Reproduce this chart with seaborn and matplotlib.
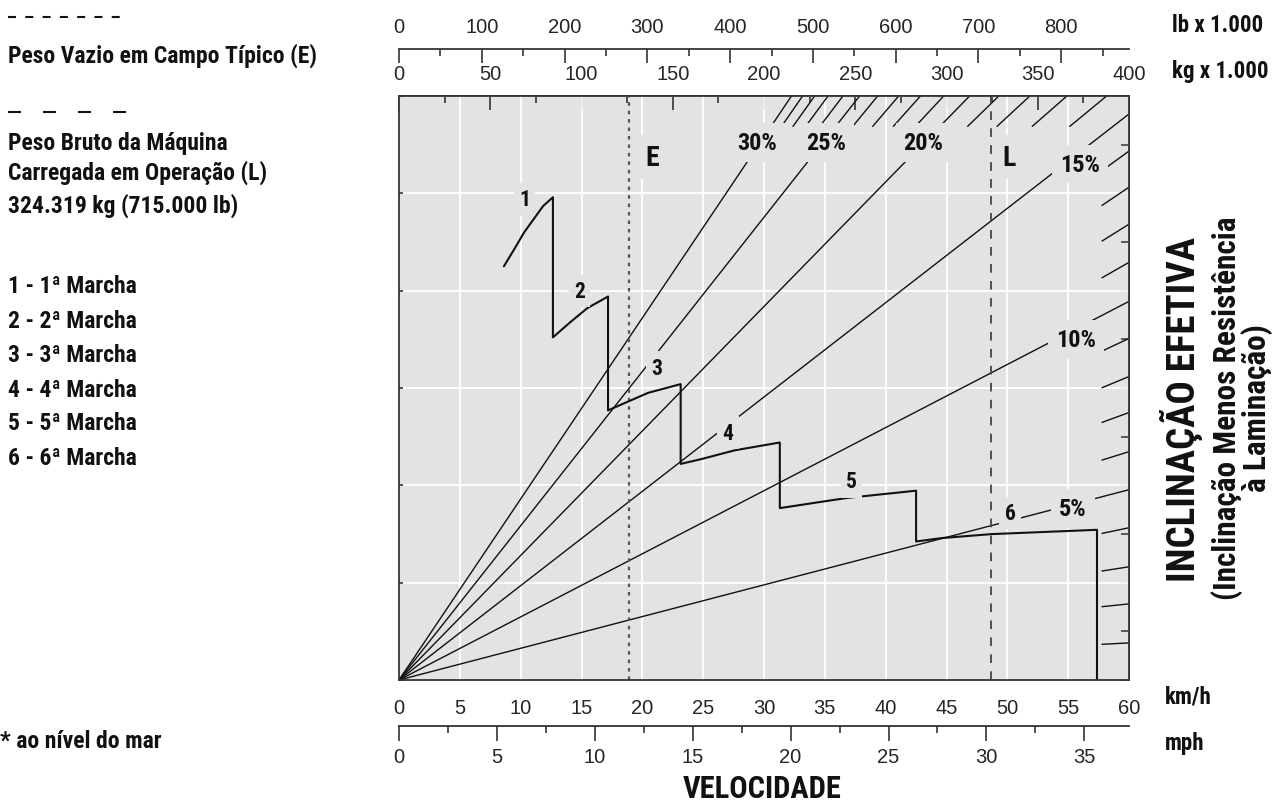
import numpy as np
import matplotlib
matplotlib.use("Agg")
import matplotlib.pyplot as plt
from matplotlib import font_manager as fm
import seaborn as sns
from matplotlib.lines import Line2D

# ---------------- data ----------------
# rimpull trace through the six gears (speed km/h, effective-grade scale units)
gear_path_kmh = [8.62, 9.49, 10.29, 11.85, 12.65, 12.65, 14.02, 15.47, 17.18, 17.18,
                 18.27, 20.47, 23.15, 23.15, 24.86, 27.6, 31.3, 31.3, 36.79, 42.5,
                 42.5, 44.6, 48.7, 57.37, 57.37]
gear_path_pull = [42.5, 44.3, 46.0, 48.7, 49.6, 35.2, 36.7, 38.2, 39.4, 27.7,
                  28.3, 29.5, 30.4, 22.2, 22.7, 23.6, 24.4, 17.66, 18.7, 19.45,
                  14.23, 14.58, 14.99, 15.43, 0.0]
gear_labels = ["1", "2", "3", "4", "5", "6"]
gear_label_kmh = [10.31, 14.84, 21.15, 27.05, 37.2, 50.23]
gear_label_pull = [49.4, 39.96, 32.08, 25.39, 20.41, 17.15]

# labelled effective-grade lines: end point where they leave the chart
grade_labels = ["30%", "25%", "20%", "15%", "10%", "5%"]
grade_end_kmh = [32.26, 37.86, 46.9, 60.0, 60.0, 60.0]
grade_end_pull = [60.0, 60.0, 60.0, 58.15, 38.9, 19.55]
grade_label_kmh = [29.47, 35.14, 43.1, 55.97, 55.64, 55.4]
grade_label_pull = [55.2, 55.2, 55.2, 53.0, 35.0, 17.6]

# unlabelled 1 % steps: exits on the top edge (16..29 %) and on the right edge (1..14 %)
top_step_kmh = [58.16, 54.9, 51.85, 49.3, 44.77, 42.86, 41.07, 39.34, 36.49, 35.26, 34.16, 33.17]
right_step_pull = [54.34, 50.63, 46.83, 42.91, 35.09, 31.18, 27.48, 23.46, 15.64, 11.63, 7.82, 3.81]

# weight lines (kg x 1000)
weight_E_t = 126.0
weight_L_t = 324.319

kmh_ticks = list(range(0, 61, 5))
mph_ticks = list(range(0, 36, 5))
kg_ticks = list(range(0, 401, 50))
lb_ticks = list(range(0, 801, 100))

legend_lines = ["Peso Vazio em Campo Típico (E)", "Peso Bruto da Máquina",
                "Carregada em Operação (L)", "324.319 kg (715.000 lb)"]
gear_names = ["1 - 1ª Marcha", "2 - 2ª Marcha", "3 - 3ª Marcha",
              "4 - 4ª Marcha", "5 - 5ª Marcha", "6 - 6ª Marcha"]

# ---------------- fonts ----------------
sns.set_style("white")
available = {f.name for f in fm.fontManager.ttflist}


def pick(cands):
    for c in cands:
        if c in available:
            return c
    return "DejaVu Sans"


COND = pick(["Liberation Sans Narrow", "Arial Narrow", "Roboto Condensed", "Archivo Narrow",
             "PT Sans Narrow", "IBM Plex Sans Condensed", "Open Sans Condensed"])
SANS = pick(["Liberation Sans", "Arimo", "Arial", "Helvetica", "Roboto"])
BOLD = [COND, "DejaVu Sans"]
REG = [SANS, "DejaVu Sans"]
plt.rcParams["font.family"] = REG

BG = "#e2e3e5"
INK = "#111111"
SPINE = "#333333"

W, H = 1277, 804
fig = plt.figure(figsize=(W / 100, H / 100), dpi=100)
fig.patch.set_facecolor("white")


def fx(px):
    return px / W


def fy(py):
    return 1 - py / H


ax = fig.add_axes([fx(399), fy(681), 730 / W, 584 / H])
ax.set_facecolor(BG)
ax.set_xlim(0, 60)
ax.set_ylim(0, 60)
ax.set_xticks(kmh_ticks)
ax.set_xticks(np.arange(0, 60.1, 2.5), minor=True)
ax.set_yticks(range(0, 61, 10))
ax.set_xticklabels([str(t) for t in kmh_ticks], family=REG)
ax.grid(True, which="major", color="white", lw=1.3)
ax.set_axisbelow(True)
for s in ax.spines.values():
    s.set_color(SPINE)
    s.set_linewidth(1.3)
ax.tick_params(axis="x", which="major", direction="out", length=10, width=1.2,
               color=SPINE, labelsize=14.5, pad=3)
ax.tick_params(axis="x", which="minor", direction="out", length=5, width=1.2, color=SPINE)
ax.tick_params(axis="y", which="major", direction="in", length=3, width=1.2,
               color=SPINE, labelleft=False, left=True, right=False)

# right edge small ticks
sr = ax.secondary_yaxis("right")
sr.set_yticks(np.arange(0, 61, 5))
sr.tick_params(direction="in", length=6, width=1.1, color=SPINE, labelright=False)
sr.spines["right"].set_color(SPINE)
sr.spines["right"].set_linewidth(1.3)

# top kg axis (spine of the chart)
skg = ax.secondary_xaxis("top", functions=(lambda v: v * 400 / 60, lambda w: w * 60 / 400))
skg.set_xticks(kg_ticks)
skg.set_xticklabels([str(t) for t in kg_ticks], family=REG)
skg.set_xticks(np.arange(0, 401, 25), minor=True)
skg.tick_params(which="major", direction="in", length=10, width=1.2, color=SPINE,
                labelsize=14.5, pad=9)
skg.tick_params(which="minor", direction="in", length=5, width=1.2, color=SPINE)
for s in skg.spines.values():
    s.set_color(SPINE)
    s.set_linewidth(1.3)

# lb axis above
LB = 0.45359237
slb = ax.secondary_xaxis((681 - 50) / 584,
                         functions=(lambda v: v * 400 / 60 / LB, lambda p: p * LB * 60 / 400))
slb.set_xticks(lb_ticks)
slb.set_xticklabels([str(t) for t in lb_ticks], family=REG)
slb.set_xticks(np.arange(0, 881, 50), minor=True)
slb.tick_params(which="major", direction="in", length=10, width=1.2, color=SPINE,
                labelsize=14.5, pad=9)
slb.tick_params(which="minor", direction="in", length=5, width=1.2, color=SPINE)
for s in slb.spines.values():
    s.set_color(SPINE)
    s.set_linewidth(1.3)

# mph axis below
MI = 1.609344
smph = ax.secondary_xaxis(-(727 - 681) / 584,
                          functions=(lambda v: v / MI, lambda m: m * MI))
smph.set_xticks(mph_ticks)
smph.set_xticklabels([str(t) for t in mph_ticks], family=REG)
smph.set_xticks(np.arange(0, 37.3, 2.5), minor=True)
smph.tick_params(which="major", direction="out", length=11, width=1.2, color=SPINE,
                 labelsize=14.5, pad=4)
smph.tick_params(which="minor", direction="out", length=5, width=1.2, color=SPINE)
for s in smph.spines.values():
    s.set_color(SPINE)
    s.set_linewidth(1.3)

# ---------------- grade lines ----------------
for ex, ey in zip(grade_end_kmh, grade_end_pull):
    sns.lineplot(x=[0, ex], y=[0, ey], color=INK, lw=1.0, ax=ax, sort=False, estimator=None)

f_top = 0.948
for ex in top_step_kmh:
    ax.plot([ex * f_top, ex], [60 * f_top, 60], color=INK, lw=1.0)
f_right = 0.963
for ey in right_step_pull:
    ax.plot([60 * f_right, 60], [ey * f_right, ey], color=INK, lw=1.0)

# weight reference lines
to_kmh = lambda t: t * 60 / 400
ax.axvline(to_kmh(weight_E_t), color="#555555", lw=1.6, ls=(0, (1.6, 2.2)))
ax.axvline(to_kmh(weight_L_t), color="#444444", lw=1.3, ls=(0, (4.8, 4.6)))

# rimpull curve
sns.lineplot(x=gear_path_kmh, y=gear_path_pull, color=INK, lw=1.5, ax=ax,
             sort=False, estimator=None)

# ---------------- in-chart labels ----------------
for t, x, y in zip(grade_labels, grade_label_kmh, grade_label_pull):
    ax.text(x, y, t, ha="center", va="center", fontsize=17.5, fontweight="bold",
            family=BOLD, color=INK,
            bbox=dict(boxstyle="square,pad=0.32", fc=BG, ec="none"), zorder=5)
for t, x, y in zip(gear_labels, gear_label_kmh, gear_label_pull):
    ax.text(x, y, t, ha="center", va="center", fontsize=15.5, fontweight="bold",
            family=BOLD, color=INK,
            bbox=dict(boxstyle="square,pad=0.25", fc=BG, ec="none"), zorder=5)
ax.text(to_kmh(weight_E_t) + 1.9, 53.7, "E", ha="center", va="center", fontsize=20,
        fontweight="bold", family=BOLD, color=INK,
        bbox=dict(boxstyle="square,pad=0.3", fc=BG, ec="none"), zorder=5)
ax.text(to_kmh(weight_L_t) + 1.5, 53.7, "L", ha="center", va="center", fontsize=20,
        fontweight="bold", family=BOLD, color=INK,
        bbox=dict(boxstyle="square,pad=0.3", fc=BG, ec="none"), zorder=5)

# ---------------- outside texts ----------------
tb = dict(fontsize=17, fontweight="bold", family=BOLD, color=INK)
fig.add_artist(Line2D([fx(8), fx(128)], [fy(18), fy(18)], transform=fig.transFigure,
                      color=INK, lw=1.5, ls=(0, (3.84, 4.46))))
fig.text(fx(8), fy(63), legend_lines[0], ha="left", va="baseline", **tb)
fig.add_artist(Line2D([fx(8), fx(128)], [fy(113), fy(113)], transform=fig.transFigure,
                      color=INK, lw=1.5, ls=(0, (6.24, 10.56))))
for txt, py in zip(legend_lines[1:], [150, 180, 213]):
    fig.text(fx(8), fy(py), txt, ha="left", va="baseline", **tb)
for txt, py in zip(gear_names, [293, 328, 362, 397, 430, 465]):
    fig.text(fx(8), fy(py), txt, ha="left", va="baseline", **tb)
fig.text(fx(0), fy(748), "* ao nível do mar", ha="left", va="baseline", **tb)

tr = dict(tb, fontsize=16.5)
fig.text(fx(1172), fy(32), "lb x 1.000", ha="left", va="baseline", **tr)
fig.text(fx(1172), fy(78), "kg x 1.000", ha="left", va="baseline", **tr)
fig.text(fx(1165), fy(704), "km/h", ha="left", va="baseline", **tr)
fig.text(fx(1165), fy(750), "mph", ha="left", va="baseline", **tr)
fig.text(fx(762), fy(798), "VELOCIDADE", ha="center", va="baseline",
         fontsize=22, fontweight="bold", family=BOLD, color=INK)

fig.text(fx(1195), fy(410), "INCLINAÇÃO EFETIVA", rotation=90, rotation_mode="anchor",
         ha="center", va="baseline", fontsize=28, fontweight="bold", family=BOLD, color=INK)
fig.text(fx(1236), fy(408), "(Inclinação Menos Resistência", rotation=90,
         rotation_mode="anchor", ha="center", va="baseline", fontsize=22.5,
         fontweight="bold", family=BOLD, color=INK)
fig.text(fx(1266), fy(408), "à Laminação)", rotation=90, rotation_mode="anchor",
         ha="center", va="baseline", fontsize=22.5, fontweight="bold", family=BOLD, color=INK)

fig.savefig("out.png", dpi=100, facecolor="white")
